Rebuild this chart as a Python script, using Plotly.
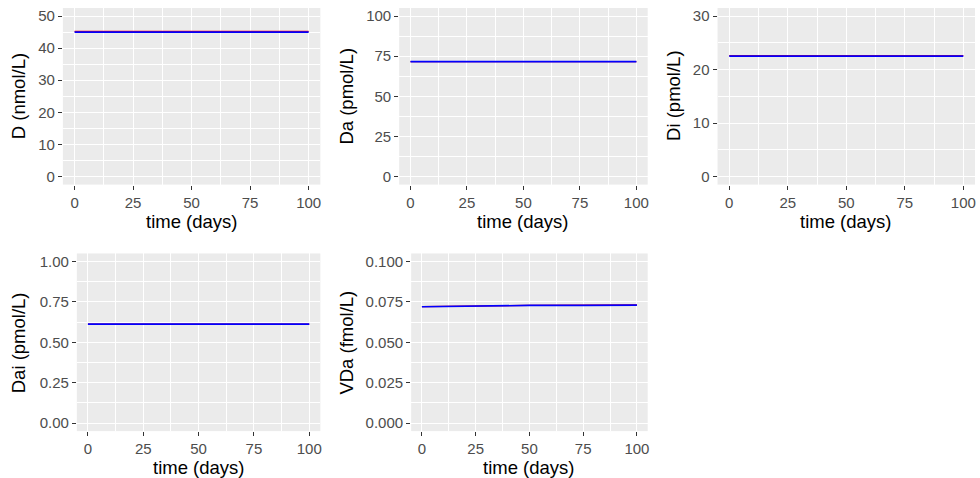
import plotly.graph_objects as go

# ---------------- data ----------------
time_days = [0, 25, 50, 75, 100]

D_red = [45.2, 45.2, 45.2, 45.2, 45.2]
D_blue = [45.0, 45.0, 45.0, 45.0, 45.0]
Da_red = [71.6, 71.6, 71.6, 71.6, 71.6]
Da_blue = [71.6, 71.6, 71.6, 71.6, 71.6]
Di_red = [22.6, 22.6, 22.6, 22.6, 22.6]
Di_blue = [22.5, 22.5, 22.5, 22.5, 22.5]
Dai_red = [0.612, 0.612, 0.612, 0.612, 0.612]
Dai_blue = [0.612, 0.612, 0.612, 0.612, 0.612]
VDa_red = [0.0721, 0.0726, 0.0729, 0.0730, 0.0731]
VDa_blue = [0.0720, 0.0725, 0.0728, 0.0729, 0.0730]

y_titles = ["D (nmol/L)", "Da (pmol/L)", "Di (pmol/L)", "Dai (pmol/L)", "VDa (fmol/L)"]
x_title = "time (days)"
x_ticks = [0, 25, 50, 75, 100]
y_ticks = [
    [0, 10, 20, 30, 40, 50],
    [0, 25, 50, 75, 100],
    [0, 10, 20, 30],
    [0, 0.25, 0.5, 0.75, 1.0],
    [0, 0.025, 0.05, 0.075, 0.1],
]
y_ticklabels = [
    ["0", "10", "20", "30", "40", "50"],
    ["0", "25", "50", "75", "100"],
    ["0", "10", "20", "30"],
    ["0.00", "0.25", "0.50", "0.75", "1.00"],
    ["0.000", "0.025", "0.050", "0.075", "0.100"],
]
y_limits = [(0, 50), (0, 100), (0, 30), (0, 1), (0, 0.1)]
series = [(D_red, D_blue), (Da_red, Da_blue), (Di_red, Di_blue), (Dai_red, Dai_blue), (VDa_red, VDa_blue)]

# ---------------- layout geometry (pixels) ----------------
W, H = 980, 478
panels = [  # left, right, top, bottom
    (63, 321, 7, 184),
    (400, 649, 7, 184),
    (719, 977, 7, 184),
    (77, 321, 253, 431),
    (412, 649, 253, 431),
]
ytitle_x = [18, 347, 675, 18, 347]
xtitle_y = [221, 221, 221, 467, 467]

fig = go.Figure()
layout = dict(
    width=W, height=H, margin=dict(l=0, r=0, t=0, b=0),
    paper_bgcolor="white", plot_bgcolor="#EBEBEB", showlegend=False,
    font=dict(family="Liberation Sans, Arial, sans-serif"),
)
annotations = []

for i, ((l, r, t, b), (red, blue)) in enumerate(zip(panels, series)):
    n = i + 1
    xa = "x" if n == 1 else f"x{n}"
    ya = "y" if n == 1 else f"y{n}"
    fig.add_trace(go.Scatter(x=time_days, y=red, mode="lines", line=dict(color="red", width=1.3),
                             xaxis=xa, yaxis=ya, hoverinfo="skip"))
    fig.add_trace(go.Scatter(x=time_days, y=blue, mode="lines", line=dict(color="blue", width=1.7),
                             xaxis=xa, yaxis=ya, hoverinfo="skip"))
    lo, hi = y_limits[i]
    span = hi - lo
    xkey = "xaxis" if n == 1 else f"xaxis{n}"
    ykey = "yaxis" if n == 1 else f"yaxis{n}"
    layout[xkey] = dict(
        domain=[l / W, r / W], anchor=ya, range=[-5, 105],
        tickvals=x_ticks, ticktext=[str(v) for v in x_ticks],
        ticks="outside", ticklen=4, tickwidth=1, tickcolor="#333333",
        tickfont=dict(size=15, color="#4D4D4D"),
        showgrid=True, gridcolor="white", gridwidth=1.3, zeroline=False, showline=False,
        minor=dict(tickvals=[12.5, 37.5, 62.5, 87.5], showgrid=True, gridcolor="white", gridwidth=0.6, ticks=""),
    )
    minor_y = [(a + c) / 2 for a, c in zip(y_ticks[i][:-1], y_ticks[i][1:])]
    layout[ykey] = dict(
        domain=[1 - b / H, 1 - t / H], anchor=xa, range=[lo - 0.05 * span, hi + 0.05 * span],
        tickvals=y_ticks[i], ticktext=y_ticklabels[i],
        ticks="outside", ticklen=4, tickwidth=1, tickcolor="#333333",
        tickfont=dict(size=15, color="#4D4D4D"),
        showgrid=True, gridcolor="white", gridwidth=1.3, zeroline=False, showline=False,
        minor=dict(tickvals=minor_y, showgrid=True, gridcolor="white", gridwidth=0.6, ticks=""),
    )
    annotations.append(dict(
        text=y_titles[i], xref="paper", yref="paper",
        x=ytitle_x[i] / W, y=1 - ((t + b) / 2) / H, textangle=-90,
        showarrow=False, xanchor="center", yanchor="middle",
        font=dict(size=18.5, color="black"),
    ))
    annotations.append(dict(
        text=x_title, xref="paper", yref="paper",
        x=((l + r) / 2) / W, y=1 - xtitle_y[i] / H,
        showarrow=False, xanchor="center", yanchor="middle",
        font=dict(size=18.5, color="black"),
    ))

layout["annotations"] = annotations
fig.update_layout(**layout)
fig.write_html("out.html")
